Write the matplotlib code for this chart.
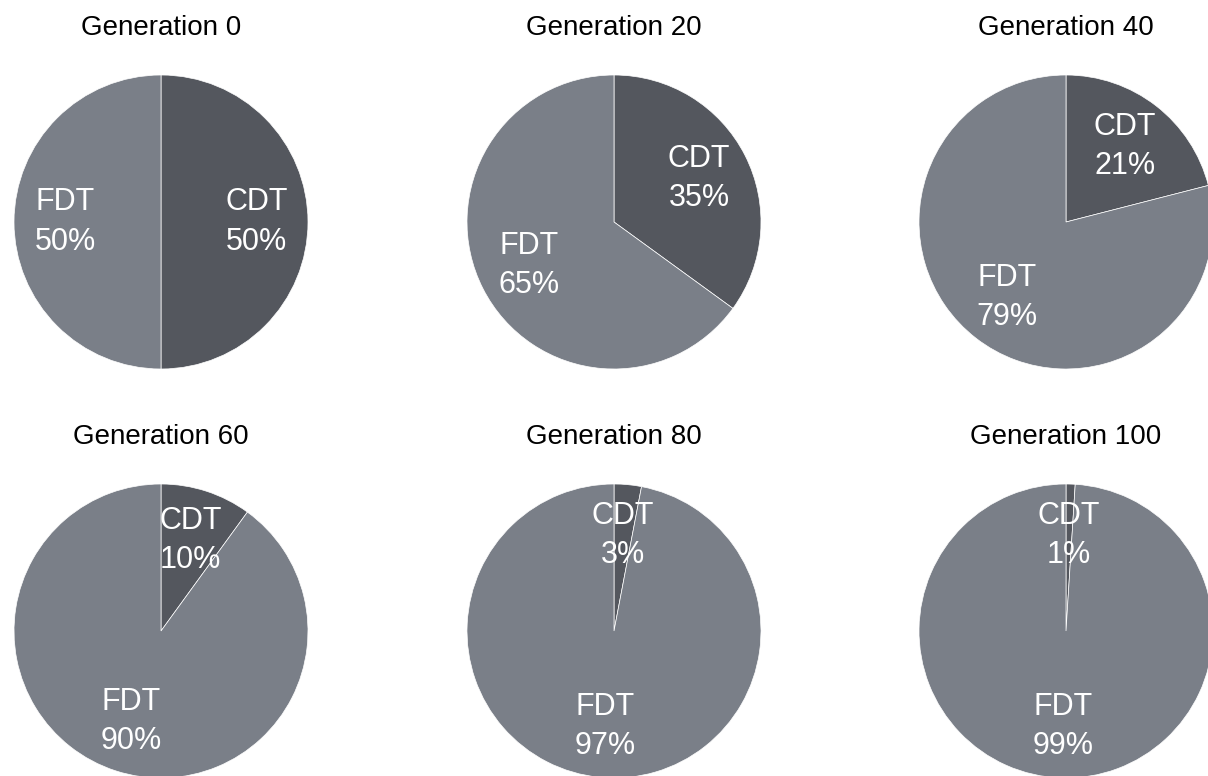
import matplotlib.pyplot as plt

plt.rcParams['font.family'] = ['Liberation Sans', 'DejaVu Sans']

generations = [0, 20, 40, 60, 80, 100]
cdt = [50, 35, 21, 10, 3, 1]
fdt = [50, 65, 79, 90, 97, 99]
names = ['CDT', 'FDT']
colors = ['#54575e', '#7a7f88']

W, H = 1208, 776
fig = plt.figure(figsize=(W / 100, H / 100), dpi=100)

r = 147
centers_x = [161, 614, 1066]
centers_y = [222, 631]
title_y = [28, 437]

for i, g in enumerate(generations):
    row, col = divmod(i, 3)
    cx, cy = centers_x[col], centers_y[row]
    ax = fig.add_axes([(cx - r) / W, 1 - (cy + r) / H, 2 * r / W, 2 * r / H])
    vals = [cdt[i], fdt[i]]
    labels = [f'{n}\n{v}%' for n, v in zip(names, vals)]
    ax.pie(vals, labels=labels, colors=colors, startangle=90, counterclock=False,
           labeldistance=0.65, radius=1,
           wedgeprops={'edgecolor': 'white', 'linewidth': 0.5},
           textprops={'color': 'white', 'fontsize': 22, 'ha': 'center', 'va': 'center',
                      'linespacing': 1.4})
    ax.set_xlim(-1, 1)
    ax.set_ylim(-1, 1)
    ax.set_aspect('equal')
    ax.axis('off')
    fig.text(cx / W, 1 - title_y[row] / H, f'Generation {g}', ha='center', va='center',
             fontsize=20, color='black')

plt.savefig('out.png', dpi=100)
